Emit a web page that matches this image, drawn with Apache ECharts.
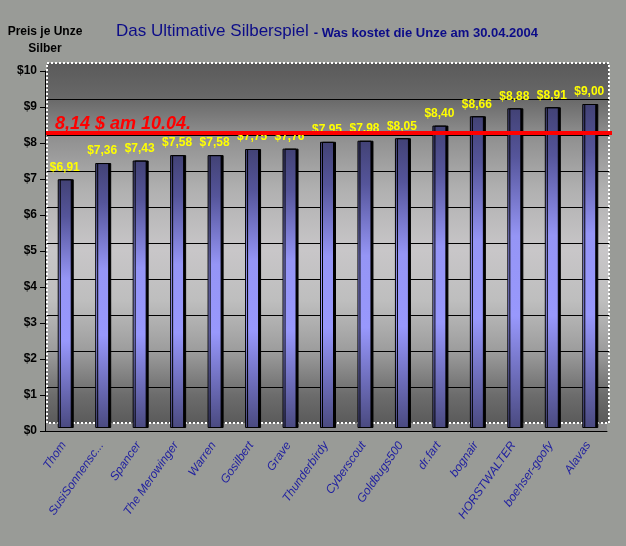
<!DOCTYPE html>
<html>
<head>
<meta charset="utf-8">
<title>Das Ultimative Silberspiel</title>
<script src="https://cdn.jsdelivr.net/npm/echarts@6/dist/echarts.min.js"></script>
<style>
  html, body { margin: 0; padding: 0; background: #999b97; }
  #chart { width: 626px; height: 546px; }
</style>
</head>
<body>
<div id="chart"></div>
<script>
// Teilnehmer und getippter Silberpreis
var names = ['Thom', 'SusiSonnensc...', 'Spancer', 'The Merowinger', 'Warren', 'Gosilbert', 'Grave',
  'Thunderbirdy', 'Cyberscout', 'Goldbugs500', 'dr.fart', 'bognair', 'HORSTWALTER', 'boehser-goofy', 'Alavas'];
var prices = [6.91, 7.36, 7.43, 7.58, 7.58, 7.75, 7.76, 7.95, 7.98, 8.05, 8.40, 8.66, 8.88, 8.91, 9.00];

// y-Achse
var yMin = 0, yMax = 10, yStep = 1;

// Referenzlinie
var refValue = 8.14;
var refText = '8,14 $ am 10.04.';

var font = 'Liberation Sans, Arial, sans-serif';

function euro(v) {
  return '$' + v.toFixed(2).replace('.', ',');
}

var myChart = echarts.init(document.getElementById('chart'));

var option = {
  backgroundColor: '#999b97',
  animation: false,
  title: {
    left: 116,
    top: 20,
    padding: 0,
    text: '{a|Das Ultimative Silberspiel} {b|- Was kostet die Unze am 30.04.2004}',
    textStyle: {
      rich: {
        a: { fontFamily: font, fontSize: 17, fontWeight: 'normal', color: '#0c0c88', lineHeight: 20, verticalAlign: 'bottom' },
        b: { fontFamily: font, fontSize: 13, fontWeight: 'bold', color: '#0c0c88', lineHeight: 20, verticalAlign: 'bottom' }
      }
    }
  },
  grid: [
    // vorne: Achsen + Boden
    { left: 45, top: 71, width: 562, height: 360, show: true, backgroundColor: '#8a8a8a', borderWidth: 0 },
    // Rueckwand
    { left: 47, top: 63, width: 562, height: 360, show: true, borderColor: '#ffffff', borderWidth: 2, borderType: 'dotted',
      backgroundColor: {
        type: 'linear', x: 0, y: 0, x2: 0, y2: 1,
        colorStops: [
          { offset: 0, color: '#5a5a5a' },
          { offset: 0.1, color: '#686868' },
          { offset: 0.2, color: '#8e8e8e' },
          { offset: 0.35, color: '#b0b0b0' },
          { offset: 0.52, color: '#c8c6c8' },
          { offset: 0.66, color: '#bebebe' },
          { offset: 0.8, color: '#9c9c9c' },
          { offset: 0.92, color: '#6c6c6c' },
          { offset: 1, color: '#5a5a5a' }
        ]
      }
    },
    // Balken
    { left: 46, top: 68, width: 562, height: 360 },
    // rote Linie
    { left: 46, top: 66, width: 566, height: 360 }
  ],
  xAxis: [
    {
      gridIndex: 0, type: 'category', data: names,
      axisLine: { lineStyle: { color: '#000', width: 1 } },
      axisTick: { length: 6, lineStyle: { color: '#000' } },
      axisLabel: {
        interval: 0, rotate: 55, margin: 12,
        fontFamily: font, fontSize: 12, fontStyle: 'italic', color: '#1f1fa0'
      }
    },
    { gridIndex: 1, type: 'category', data: names, show: false },
    { gridIndex: 2, type: 'category', data: names, show: false },
    { gridIndex: 3, type: 'value', min: 0, max: 1, show: false }
  ],
  yAxis: [
    {
      gridIndex: 0, type: 'value', min: yMin, max: yMax, interval: yStep,
      name: 'Preis je Unze\nSilber', nameLocation: 'end', nameGap: 14,
      nameTextStyle: { fontFamily: font, fontSize: 12, fontWeight: 'bold', color: '#000', align: 'center', lineHeight: 17 },
      axisLine: { show: true, lineStyle: { color: '#000', width: 1 } },
      axisTick: { show: true, length: 5, lineStyle: { color: '#000' } },
      axisLabel: { fontFamily: font, fontSize: 12, fontWeight: 'bold', color: '#000', margin: 8,
        formatter: function (v) { return '$' + v; } },
      splitLine: { show: false }
    },
    {
      gridIndex: 1, type: 'value', min: yMin, max: yMax, interval: yStep,
      axisLine: { show: false }, axisTick: { show: false }, axisLabel: { show: false },
      splitLine: { show: true, showMinLine: false, showMaxLine: false, lineStyle: { color: '#000', width: 1 } }
    },
    { gridIndex: 2, type: 'value', min: yMin, max: yMax, show: false },
    { gridIndex: 3, type: 'value', min: yMin, max: yMax, show: false }
  ],
  series: [
    {
      type: 'bar',
      xAxisIndex: 2, yAxisIndex: 2,
      data: prices,
      barWidth: 14,
      z: 3,
      itemStyle: {
        borderColor: '#000',
        borderWidth: 1,
        shadowColor: '#000',
        shadowOffsetX: 2,
        shadowOffsetY: 0,
        shadowBlur: 0,
        color: {
          type: 'linear', x: 0, y: 0, x2: 0, y2: 1,
          colorStops: [
            { offset: 0, color: '#424275' },
            { offset: 0.15, color: '#55559a' },
            { offset: 0.4, color: '#9595f5' },
            { offset: 0.65, color: '#9898fc' },
            { offset: 0.85, color: '#6a6ab5' },
            { offset: 1, color: '#4a4a80' }
          ]
        }
      },
      label: {
        show: true, position: 'top', distance: 6,
        fontFamily: font, fontSize: 12, fontWeight: 'bold', color: '#ffff00',
        formatter: function (p) { return euro(p.value); }
      }
    },
    {
      type: 'line',
      xAxisIndex: 3, yAxisIndex: 3,
      z: 6,
      symbol: 'circle', symbolSize: 0, showSymbol: true,
      lineStyle: { color: '#ff0000', width: 4 },
      data: [
        {
          value: [0, refValue],
          label: {
            show: true, position: 'right', distance: 5, offset: [4, -9],
            formatter: refText,
            fontFamily: font, fontSize: 18, fontWeight: 'bold', fontStyle: 'italic', color: '#ff0000'
          }
        },
        [1, refValue]
      ]
    }
  ]
};

myChart.setOption(option);

window.onresize = function () {
  myChart.resize();
};
</script>
</body>
</html>
